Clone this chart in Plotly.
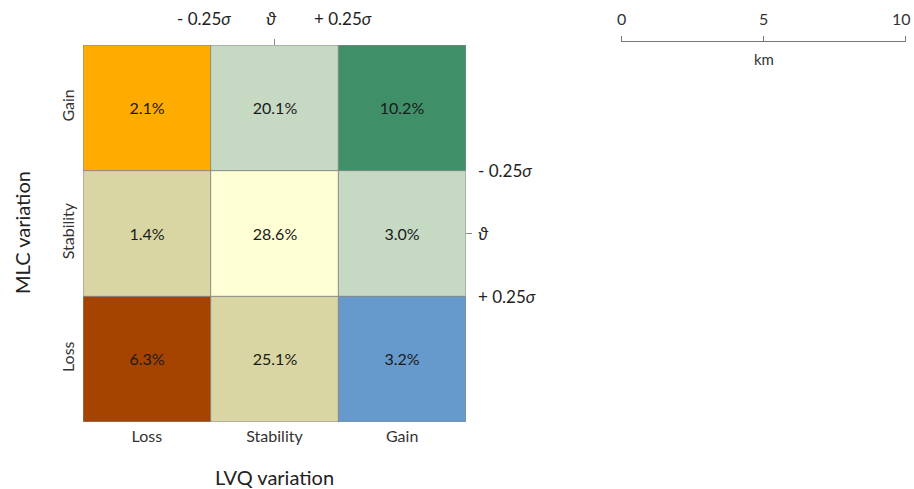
import plotly.graph_objects as go

# ---- data ----
lvq_categories = ["Loss", "Stability", "Gain"]          # x (columns)
mlc_categories = ["Loss", "Stability", "Gain"]          # y (rows, bottom to top)
pct_loss_row = ["6.3%", "25.1%", "3.2%"]
pct_stability_row = ["1.4%", "28.6%", "3.0%"]
pct_gain_row = ["2.1%", "20.1%", "10.2%"]
color_idx_loss_row = [0, 1, 2]
color_idx_stability_row = [1, 3, 4]
color_idx_gain_row = [5, 4, 6]
palette = ["#A54400", "#D9D6A3", "#6699CC", "#FFFFD6", "#C6D9C3", "#FFAB00", "#3F8F68"]
threshold_labels = ["- 0.25<i>\u03c3</i>", "<i>\u03d1</i>", "+ 0.25<i>\u03c3</i>"]
scale_ticks = [0, 5, 10]

FONT = "Lato"
W, H = 914, 489

n = len(palette)
colorscale = []
for i, c in enumerate(palette):
    colorscale.append([i / n, c])
    colorscale.append([(i + 1) / n, c])

z = [color_idx_loss_row, color_idx_stability_row, color_idx_gain_row]
text = [pct_loss_row, pct_stability_row, pct_gain_row]

fig = go.Figure()
fig.add_trace(go.Heatmap(
    x=[0, 1, 2], y=[0, 1, 2], z=z, text=text,
    texttemplate="%{text}", textfont=dict(family=FONT, size=16, color="#1a1a1a"),
    colorscale=colorscale, zmin=-0.5, zmax=n - 0.5, showscale=False,
    hoverinfo="skip",
))

# scale bar trace (invisible) on second axes
fig.add_trace(go.Scatter(x=[0, 10], y=[0, 0], mode="markers",
                         marker=dict(opacity=0), xaxis="x2", yaxis="y2",
                         hoverinfo="skip", showlegend=False))

x0, x1 = 83 / W, 466 / W
y0, y1 = 1 - 422 / H, 1 - 45 / H

fig.update_layout(
    width=W, height=H, margin=dict(l=0, r=0, t=0, b=0),
    paper_bgcolor="white", plot_bgcolor="white",
    font=dict(family=FONT, size=16, color="#333"),
    showlegend=False,
    xaxis=dict(domain=[x0, x1], range=[-0.5, 2.5], tickvals=[0, 1, 2],
               ticktext=lvq_categories, showgrid=False, zeroline=False, automargin=False,
               ticks="", tickfont=dict(size=16, color="#333"), ticklabelstandoff=3),
    yaxis=dict(domain=[y0, y1], range=[-0.5, 2.5], tickvals=[0, 1, 2],
               ticktext=mlc_categories, tickangle=-90, showgrid=False, zeroline=False,
               automargin=False, ticks="", tickfont=dict(size=16, color="#333"),
               ticklabelstandoff=5),
    xaxis2=dict(domain=[621 / W, 906 / W], range=[-0.001, 10.001], anchor="y2", side="top",
                tickvals=scale_ticks, showline=True, linecolor="#777", linewidth=1.2,
                ticks="outside", ticklen=5, tickcolor="#777", showgrid=False,
                zeroline=False, automargin=False, showticklabels=False),
    yaxis2=dict(domain=[0.86, 1 - 42 / H], anchor="x2", visible=False, range=[-1, 1]),
)

# scale bar tick labels
for v in scale_ticks:
    is_last = v == scale_ticks[-1]
    fig.add_annotation(x=v, xref="x2", y=1 - 18 / H, yref="paper", text=str(v), showarrow=False,
                       font=dict(size=16, color="#333"),
                       xanchor="right" if is_last else "center", xshift=7 if is_last else 0,
                       yanchor="middle")

# cell borders
line_style = dict(color="#8a8a8a", width=1)
for b in [0.5, 1.5]:
    fig.add_shape(type="line", x0=b, x1=b, y0=-0.5, y1=2.5, xref="x", yref="y", line=line_style)
    fig.add_shape(type="line", y0=b, y1=b, x0=-0.5, x1=2.5, xref="x", yref="y", line=line_style)
fig.add_shape(type="rect", x0=-0.5, x1=2.5, y0=-0.5, y1=2.5, xref="x", yref="y", line=line_style)

# axis titles
fig.add_annotation(x=274 / W, y=1 - 477 / H, xref="paper", yref="paper", text="LVQ variation",
                   showarrow=False, font=dict(size=20, color="#222"), xanchor="center", yanchor="middle")
fig.add_annotation(x=22 / W, y=1 - 233 / H, xref="paper", yref="paper", text="MLC variation",
                   showarrow=False, textangle=-90, font=dict(size=20, color="#222"),
                   xanchor="center", yanchor="middle")

# threshold labels on top (x boundaries at 0.5, 1.5)
top_y = 1 - 19 / H
for xv, lab, sh in zip([0.5, 1, 1.5], threshold_labels, [-7, -3, 5]):
    fig.add_annotation(x=xv, xref="x", y=top_y, yref="paper", text=lab, showarrow=False,
                       font=dict(size=17, color="#222"), xanchor="center", yanchor="middle",
                       xshift=sh)
# small tick at ϑ on top
fig.add_shape(type="line", x0=1, x1=1, xref="x", y0=y1, y1=y1 + 6 / H, yref="paper",
              line=dict(color="#888", width=1))

# threshold labels on right (y boundaries at 1.5, 0.5)
for yv, lab in zip([1.5, 1, 0.5], threshold_labels):
    fig.add_annotation(x=476 / W, xref="paper", y=yv, yref="y", text=lab, showarrow=False,
                       font=dict(size=17, color="#222"), xanchor="left", yanchor="middle")
fig.add_shape(type="line", x0=x1, x1=x1 + 6 / W, xref="paper", y0=1, y1=1, yref="y",
              line=dict(color="#888", width=1))

# km label
fig.add_annotation(x=5, xref="x2", y=1 - 59 / H, yref="paper", text="km", showarrow=False,
                   font=dict(size=15, color="#333"), xanchor="center", yanchor="middle")

fig.write_html("out.html", config={"displayModeBar": False},
               post_script="document.body.style.margin='0';")
